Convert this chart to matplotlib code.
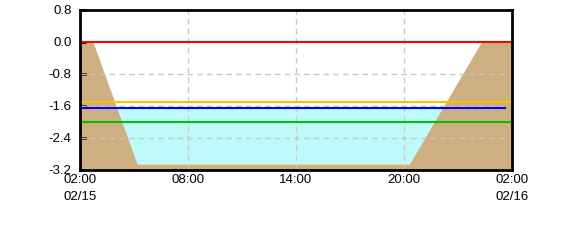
import matplotlib
matplotlib.use("Agg")
import matplotlib.pyplot as plt

# data
bed_hours = [0.0, 0.72, 3.17, 18.3, 22.3, 24.0]
bed_level = [0.0, 0.0, -3.05, -3.05, 0.0, 0.0]
water_level = -1.64
water_bottom = -3.05
water_end = 23.6
ref_levels = [0.0, -1.5, -2.0]
ref_colors = ["#FF0000", "#F5C400", "#00C000"]
yticks = [0.8, 0.0, -0.8, -1.6, -2.4, -3.2]
xticks = [0, 6, 12, 18, 24]
xlabels = ["02:00\n02/15", "08:00", "14:00", "20:00", "02:00\n02/16"]

plt.rcParams['font.family'] = ['Liberation Sans', 'DejaVu Sans']
fig = plt.figure(figsize=(5.7, 2.4), dpi=100)
ax = fig.add_axes([80/570, 1-170/240, 432/570, 160/240])
ax.set_axisbelow(False)

ax.fill_between([0, 24], water_bottom, water_level, color="#BFFAFA", lw=0, zorder=1)
ax.fill_between(bed_hours, bed_level, -3.2, color="#CDAF82", lw=0, zorder=2)

for v in [6, 12, 18]:
    ax.axvline(v, color="#C8C8C8", lw=1, ls=(0, (4, 3)), zorder=3)
for v in [-0.8, -1.6, -2.4]:
    ax.plot([0, 23.6], [v, v], color="#C8C8C8", lw=1, ls=(0, (4, 3)), zorder=3)

for lv, c in zip(ref_levels, ref_colors):
    ax.axhline(lv, color=c, lw=1.5, zorder=4)
ax.plot([0, water_end], [water_level, water_level], color="#0000FF", lw=1.5, zorder=4)

ax.set_xlim(0, 24)
ax.set_ylim(-3.2, 0.8)
ax.set_yticks(yticks)
ax.set_yticklabels([f"{v:.1f}" for v in yticks])
ax.set_xticks(xticks)
ax.set_xticklabels(xlabels, linespacing=1.5)
ax.tick_params(axis='y', direction='in', length=4.5, width=2, labelsize=9.5, pad=6)
ax.tick_params(axis='x', length=0, labelsize=9.5, pad=3)
for lab in ax.get_xticklabels():
    lab.set_verticalalignment('top')
for s in ax.spines.values():
    s.set_linewidth(2)
    s.set_zorder(6)

fig.savefig("out.png", dpi=100)
